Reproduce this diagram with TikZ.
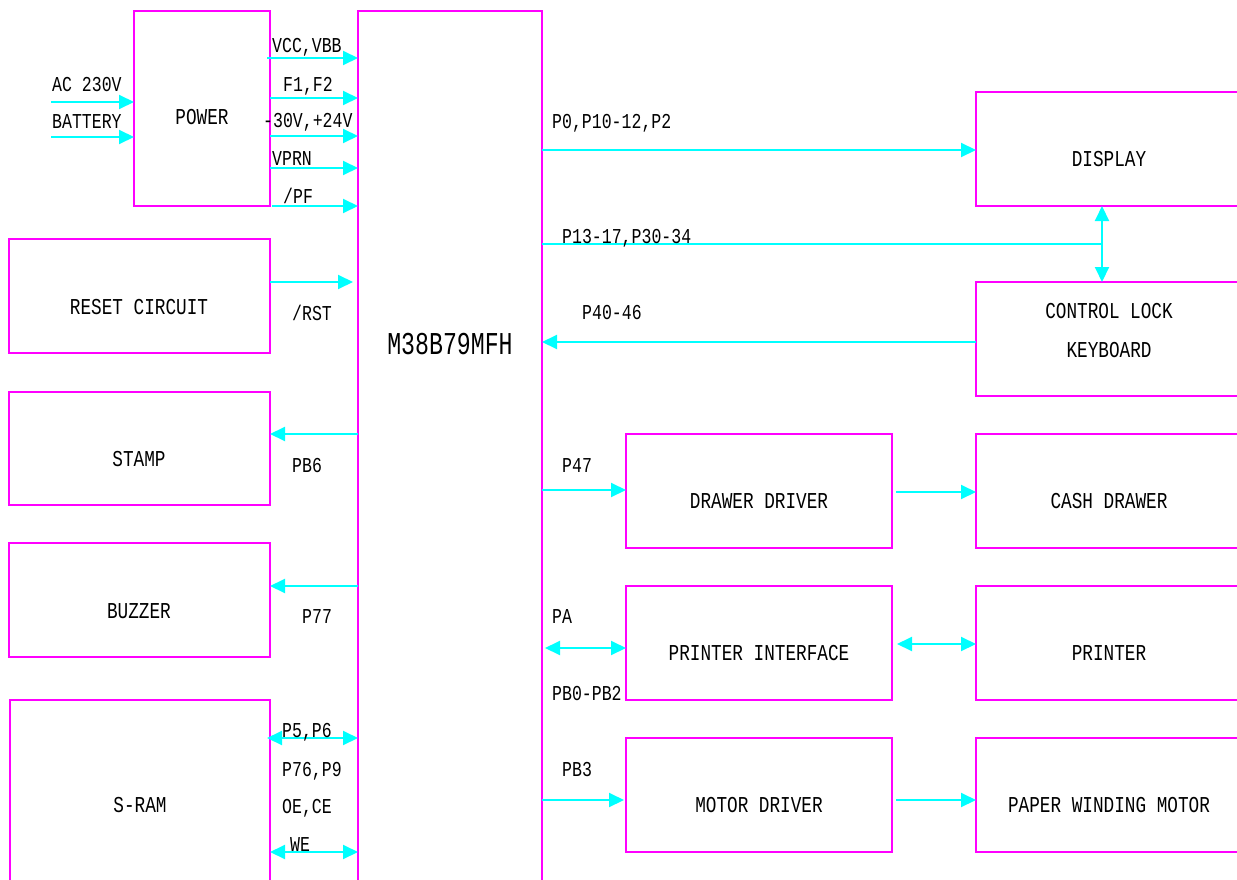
\documentclass[tikz,border=0pt]{standalone}
\usepackage{fontspec}
\newfontfamily\lblfont[FakeStretch=0.78]{Liberation Mono}
\newfontfamily\bigfont[FakeStretch=0.73]{Liberation Mono}
\usetikzlibrary{arrows.meta,calc}
\definecolor{mag}{RGB}{255,0,255}
\definecolor{cy}{RGB}{0,255,255}
\tikzset{
  blk/.style={draw=mag, line width=1.8pt, rectangle, outer sep=0pt, inner sep=0pt, anchor=north west},
  boxtxt/.style={font=\lblfont\fontsize{22.7}{26}\selectfont, inner sep=0pt},
  bigtxt/.style={font=\bigfont\fontsize{31.8}{36}\selectfont, inner sep=0pt},
  lbl/.style={font=\lblfont\fontsize{21.2}{24}\selectfont, inner sep=0pt, anchor=base west},
  tipA/.tip={Triangle[length=15pt,width=14pt]},
  arr/.style={draw=cy, line width=2pt, -tipA},
  darr/.style={draw=cy, line width=2pt, tipA-tipA},
  ln/.style={draw=cy, line width=2pt},
}
\begin{document}
\begin{tikzpicture}[x=1pt,y=-1pt]
\useasboundingbox (0,0) rectangle (1237,880);
\clip (0,0) rectangle (1237,880);
% boxes
\node[blk, minimum width=136pt, minimum height=195pt] (power) at (134,11) {};
\node[blk, minimum width=184pt, minimum height=900pt] (mcu) at (358,11) {};
\node[blk, minimum width=261pt, minimum height=114pt] (reset) at (9,239) {};
\node[blk, minimum width=261pt, minimum height=113pt] (stamp) at (9,392) {};
\node[blk, minimum width=261pt, minimum height=114pt] (buzzer) at (9,543) {};
\node[blk, minimum width=260pt, minimum height=300pt] (sram) at (10,700) {};
\node[blk, minimum width=266pt, minimum height=114pt] (display) at (976,92) {};
\node[blk, minimum width=266pt, minimum height=114pt] (ctrl) at (976,282) {};
\node[blk, minimum width=266pt, minimum height=114pt] (drawer) at (626,434) {};
\node[blk, minimum width=266pt, minimum height=114pt] (cash) at (976,434) {};
\node[blk, minimum width=266pt, minimum height=114pt] (pif) at (626,586) {};
\node[blk, minimum width=266pt, minimum height=114pt] (printer) at (976,586) {};
\node[blk, minimum width=266pt, minimum height=114pt] (motor) at (626,738) {};
\node[blk, minimum width=266pt, minimum height=114pt] (pmotor) at (976,738) {};
% box texts
\node[boxtxt] (tpower) at (202,117) {POWER};
\node[bigtxt] (tmcu) at (450,344) {M38B79MFH};
\node[boxtxt] (treset) at (139,307) {RESET CIRCUIT};
\node[boxtxt] (tstamp) at (139,459) {STAMP};
\node[boxtxt] (tbuzzer) at (139,611) {BUZZER};
\node[boxtxt] (tsram) at (140,805) {S-RAM};
\node[boxtxt] (tdisplay) at (1109,159) {DISPLAY};
\node[boxtxt] (tctrlA) at (1109,311) {CONTROL LOCK};
\node[boxtxt] (tctrlB) at (1109,350) {KEYBOARD};
\node[boxtxt] (tdrawer) at (759,501) {DRAWER DRIVER};
\node[boxtxt] (tcash) at (1109,501) {CASH DRAWER};
\node[boxtxt] (tpif) at (759,653) {PRINTER INTERFACE};
\node[boxtxt] (tprinter) at (1109,653) {PRINTER};
\node[boxtxt] (tmotor) at (759,805) {MOTOR DRIVER};
\node[boxtxt] (tpmotor) at (1109,805) {PAPER WINDING MOTOR};
% free ends
\coordinate (acin) at (51,102);
\coordinate (batin) at (51,137);
\coordinate (junc) at (1102,244);
% power connectors
\draw[arr] (acin) -- (power.west |- acin);
\draw[arr] (batin) -- (power.west |- batin);
\draw[arr] ([xshift=-3pt]power.east |- 0,58) -- (mcu.west |- 0,58);
\draw[arr] (power.east |- 0,98) -- (mcu.west |- 0,98);
\draw[arr] (power.east |- 0,136) -- (mcu.west |- 0,136);
\draw[arr] (power.east |- 0,168) -- (mcu.west |- 0,168);
\draw[arr] ([xshift=2pt]power.east |- 0,206) -- (mcu.west |- 0,206);
% left side
\draw[arr] (reset.east |- 0,282) -- ([xshift=-5pt]mcu.west |- 0,282);
\draw[arr] (mcu.west |- 0,434) -- (stamp.east |- 0,434);
\draw[arr] (mcu.west |- 0,586) -- (buzzer.east |- 0,586);
\draw[darr] ([xshift=-3pt]sram.east |- 0,738) -- (mcu.west |- 0,738);
\draw[darr] (sram.east |- 0,852) -- (mcu.west |- 0,852);
% right side
\draw[arr] (mcu.east |- 0,150) -- (display.west |- 0,150);
\draw[ln] (mcu.east |- junc) -- (junc);
\draw[darr] (display.south -| junc) -- (ctrl.north -| junc);
\draw[arr] (ctrl.west |- 0,342) -- (mcu.east |- 0,342);
\draw[arr] (mcu.east |- 0,490) -- (drawer.west |- 0,490);
\draw[arr] ([xshift=4pt]drawer.east |- 0,492) -- (cash.west |- 0,492);
\draw[darr] ([xshift=3pt]mcu.east |- 0,648) -- (pif.west |- 0,648);
\draw[darr] ([xshift=5pt]pif.east |- 0,644) -- (printer.west |- 0,644);
\draw[arr] (mcu.east |- 0,800) -- ([xshift=-2pt]motor.west |- 0,800);
\draw[arr] ([xshift=4pt]motor.east |- 0,800) -- (pmotor.west |- 0,800);
% labels
\node[lbl] (lac) at (52,92) {AC 230V};
\node[lbl] (lbat) at (52,129) {BATTERY};
\node[lbl] (lvcc) at (272,53) {VCC,VBB};
\node[lbl] (lf) at (283,92) {F1,F2};
\node[lbl] (lv30) at (263,128) {-30V,+24V};
\node[lbl] (lvprn) at (272,166) {VPRN};
\node[lbl] (lpf) at (283,203) {/PF};
\node[lbl] (lrst) at (292,320) {/RST};
\node[lbl] (lpb6) at (292,472) {PB6};
\node[lbl] (lp77) at (302,623) {P77};
\node[lbl] (lp56) at (282,737) {P5,P6};
\node[lbl] (lp76) at (282,776) {P76,P9};
\node[lbl] (loe) at (282,813) {OE,CE};
\node[lbl] (lwe) at (290,851) {WE};
\node[lbl] (lp0) at (552,129) {P0,P10-12,P2};
\node[lbl] (lp13) at (562,243) {P13-17,P30-34};
\node[lbl] (lp40) at (582,319) {P40-46};
\node[lbl] (lp47) at (562,472) {P47};
\node[lbl] (lpa) at (552,623) {PA};
\node[lbl] (lpb0) at (552,700) {PB0-PB2};
\node[lbl] (lpb3) at (562,776) {PB3};
\end{tikzpicture}
\end{document}
